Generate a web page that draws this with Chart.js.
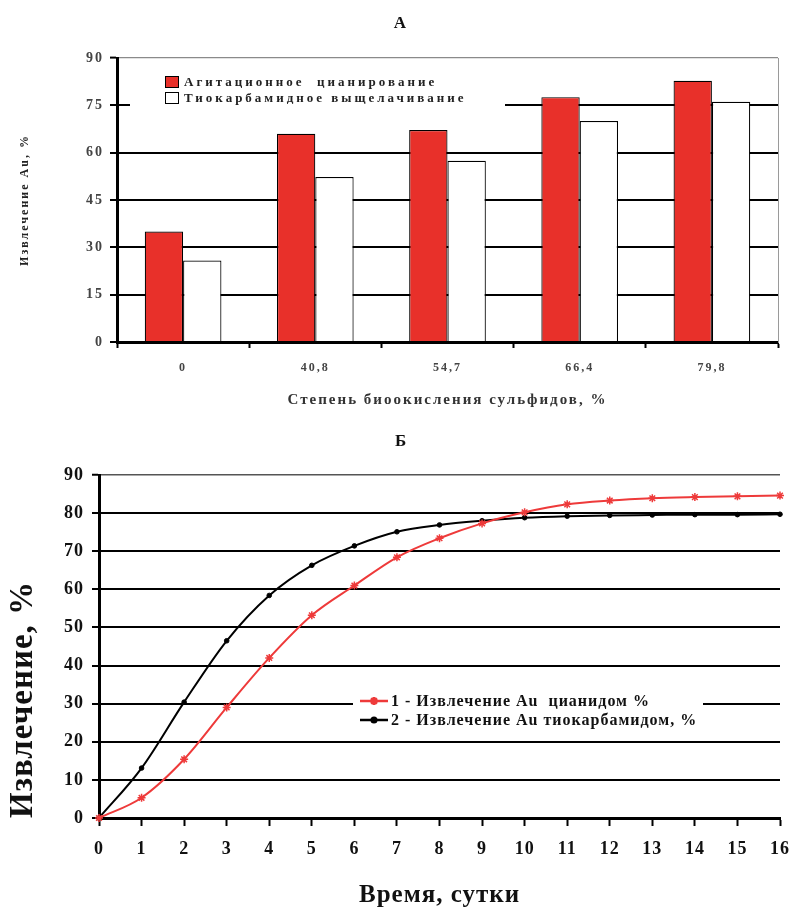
<!DOCTYPE html>
<html>
<head>
<meta charset="utf-8">
<script src="https://cdn.jsdelivr.net/npm/chart.js@4.4.1/dist/chart.umd.min.js"></script>
<style>
html,body{margin:0;padding:0;background:#fff;}
#wrap{position:relative;width:802px;height:913px;background:#fff;}
#c1{position:absolute;left:0;top:0;}
#c2{position:absolute;left:0;top:420px;}
</style>
</head>
<body>
<div id="wrap">
<canvas id="c1" width="802" height="420"></canvas>
<canvas id="c2" width="802" height="493"></canvas>
</div>
<script>
// ---------- Chart А (bars) ----------
const barCategories = ['0', '40,8', '54,7', '66,4', '79,8'];
const agitationCyanidation = [35, 66, 67.2, 77.6, 82.8];
const thioureaLeaching = [25.8, 52.3, 57.4, 70, 76.1];
const barSeriesLabels = ['Агитационное  цианирование', 'Тиокарбамидное выщелачивание'];
const barYTicks = [0, 15, 30, 45, 60, 75, 90];

// ---------- Chart Б (lines) ----------
const days = [0, 1, 2, 3, 4, 5, 6, 7, 8, 9, 10, 11, 12, 13, 14, 15, 16];
const cyanideRecovery = [0, 5.3, 15.4, 29, 42, 53.2, 61, 68.4, 73.4, 77.3, 80.2, 82.3, 83.3, 83.9, 84.2, 84.4, 84.6];
const thioureaRecovery = [0, 13.1, 30.4, 46.5, 58.4, 66.3, 71.4, 75.1, 76.9, 78, 78.8, 79.2, 79.4, 79.5, 79.6, 79.6, 79.7];
const lineSeriesLabels = ['1 - Извлечение Au  цианидом %', '2 - Извлечение Au тиокарбамидом, %'];
const lineYTicks = [0, 10, 20, 30, 40, 50, 60, 70, 80, 90];

const SERIF = "'Liberation Serif', 'Times New Roman', 'DejaVu Serif', serif";
Chart.defaults.font.family = SERIF;
Chart.defaults.color = '#000';

const gridColor = (top, topColor) => (ctx) => (ctx.tick && ctx.tick.value === top ? topColor : '#000');
const gridWidth = (top, w) => (ctx) => (ctx.tick && ctx.tick.value === top ? w : 2);

// spacing + in-area legend for chart А
const barDecor = {
  id: 'barDecor',
  beforeDraw(chart) { chart.ctx.letterSpacing = '2px'; },
  beforeDatasetsDraw(chart) {
    const { ctx, chartArea: a } = chart;
    ctx.save();
    ctx.fillStyle = '#fff';
    ctx.fillRect(a.left + 13, a.top + 4, 375, 50);
    ctx.font = 'bold 13px ' + SERIF;
    ctx.letterSpacing = '3px';
    ctx.textBaseline = 'middle';
    chart.data.datasets.forEach((ds, i) => {
      const y = a.top + 24 + i * 16;
      ctx.fillStyle = ds.backgroundColor;
      ctx.fillRect(a.left + 48, y - 6, 14, 12);
      ctx.strokeStyle = '#000';
      ctx.lineWidth = 1;
      ctx.strokeRect(a.left + 48.5, y - 5.5, 13, 11);
      ctx.fillStyle = '#222';
      ctx.fillText(ds.label, a.left + 67, y + 1);
    });
    ctx.restore();
  }
};

new Chart(document.getElementById('c1'), {
  type: 'bar',
  data: {
    labels: barCategories,
    datasets: [
      { label: barSeriesLabels[0], data: agitationCyanidation, backgroundColor: '#e8302a',
        borderColor: '#000', borderWidth: 1.2, categoryPercentage: 0.58, barPercentage: 1 },
      { label: barSeriesLabels[1], data: thioureaLeaching, backgroundColor: '#ffffff',
        borderColor: '#000', borderWidth: 1.2, categoryPercentage: 0.58, barPercentage: 1 }
    ]
  },
  options: {
    responsive: false, animation: false, devicePixelRatio: 1,
    layout: { padding: { left: 0, right: 0, top: 0, bottom: 0 } },
    plugins: {
      legend: { display: false }, tooltip: { enabled: false },
      title: { display: true, text: 'А', color: '#111', font: { size: 17, weight: 'bold' }, padding: { top: 13, bottom: 24.6 } }
    },
    scales: {
      x: {
        grid: { drawOnChartArea: false, tickLength: 6, tickColor: '#000', tickWidth: 2 },
        border: { color: '#000', width: 3 },
        ticks: { font: { size: 12, weight: 'bold' }, color: '#444', padding: 13 },
        title: { display: true, text: 'Степень биоокисления сульфидов, %', color: '#333',
                 font: { size: 15, weight: 'bold' }, padding: { top: 0, bottom: 11 } },
        afterFit: (s) => { s.height = 78; }
      },
      y: {
        min: barYTicks[0], max: barYTicks[barYTicks.length - 1],
        afterBuildTicks: (s) => { s.ticks = barYTicks.map(v => ({ value: v })); },
        grid: { color: gridColor(90, '#8a8a8a'), lineWidth: gridWidth(90, 1.2), tickLength: 7, tickColor: '#000', tickWidth: 2 },
        border: { color: '#000', width: 3 },
        ticks: { font: { size: 14, weight: 'bold' }, color: '#444', padding: 6 },
        title: { display: true, text: 'Извлечение Au, %', color: '#222',
                 font: { size: 12, weight: 'bold' }, padding: { top: 18, bottom: 0 } },
        afterFit: (s) => { s.width = 117; }
      },
      frame: {
        position: 'right', min: 0, max: 90,
        ticks: { display: false },
        grid: { drawOnChartArea: false, drawTicks: false },
        border: { color: '#9a9a9a', width: 1 },
        afterFit: (s) => { s.width = 24; }
      }
    }
  },
  plugins: [barDecor]
});

// spacing + in-area legend for chart Б
const lineLegend = {
  id: 'lineLegend',
  beforeDraw(chart) { chart.ctx.letterSpacing = '1px'; },
  afterDatasetsDraw(chart) {
    const { ctx, chartArea: a } = chart;
    ctx.save();
    ctx.fillStyle = '#fff';
    ctx.fillRect(a.left + 254, a.top + 212, 350, 44);
    ctx.font = 'bold 16px ' + SERIF;
    ctx.letterSpacing = '1px';
    ctx.textBaseline = 'middle';
    chart.data.datasets.forEach((ds, i) => {
      const y = a.top + 226 + i * 19;
      ctx.strokeStyle = ds.borderColor;
      ctx.lineWidth = 2.5;
      ctx.beginPath();
      ctx.moveTo(a.left + 261, y);
      ctx.lineTo(a.left + 289, y);
      ctx.stroke();
      ctx.fillStyle = ds.backgroundColor;
      Chart.helpers.drawPoint(ctx, { pointStyle: ds.pointStyle, radius: ds.pointRadius, borderWidth: ds.pointBorderWidth, rotation: 0 }, a.left + 275, y);
      ctx.fillStyle = '#111';
      ctx.fillText(ds.label, a.left + 292, y + 1);
    });
    ctx.restore();
  }
};

new Chart(document.getElementById('c2'), {
  type: 'line',
  data: {
    datasets: [
      { label: lineSeriesLabels[0], data: days.map((d, i) => ({ x: d, y: cyanideRecovery[i] })),
        borderColor: '#ee3a3a', backgroundColor: '#ee3a3a', borderWidth: 2,
        pointStyle: 'star', pointRadius: 4, pointBorderWidth: 1.5, pointBorderColor: '#ee3a3a',
        cubicInterpolationMode: 'monotone', clip: 10 },
      { label: lineSeriesLabels[1], data: days.map((d, i) => ({ x: d, y: thioureaRecovery[i] })),
        borderColor: '#000', backgroundColor: '#000', borderWidth: 2,
        pointStyle: 'circle', pointRadius: 2.3, pointBorderWidth: 1, pointBorderColor: '#000',
        cubicInterpolationMode: 'monotone', clip: 10 }
    ]
  },
  options: {
    responsive: false, animation: false, devicePixelRatio: 1,
    layout: { padding: { left: 0, right: 0, top: 0, bottom: 0 } },
    plugins: {
      legend: { display: false }, tooltip: { enabled: false },
      title: { display: true, text: 'Б', color: '#111', font: { size: 17, weight: 'bold' }, padding: { top: 11.8, bottom: 22.8 } }
    },
    scales: {
      x: {
        type: 'linear', min: days[0], max: days[days.length - 1],
        afterBuildTicks: (s) => { s.ticks = days.map(v => ({ value: v })); },
        grid: { drawOnChartArea: false, tickLength: 8, tickColor: '#000', tickWidth: 2 },
        border: { color: '#000', width: 3 },
        ticks: { font: { size: 18, weight: 'bold' }, color: '#111', padding: 13 },
        title: { display: true, text: 'Время, сутки', color: '#111',
                 font: { size: 25, weight: 'bold' }, padding: { top: 0, bottom: 2 } },
        afterFit: (s) => { s.height = 95; }
      },
      y: {
        min: lineYTicks[0], max: lineYTicks[lineYTicks.length - 1],
        afterBuildTicks: (s) => { s.ticks = lineYTicks.map(v => ({ value: v })); },
        grid: { color: gridColor(90, '#555'), lineWidth: gridWidth(90, 1.5), tickLength: 7, tickColor: '#000', tickWidth: 2 },
        border: { color: '#000', width: 3 },
        ticks: { font: { size: 18, weight: 'bold' }, color: '#111', padding: 8 },
        title: { display: true, text: 'Извлечение, %', color: '#111', align: 'start',
                 font: { size: 33, weight: 'bold' }, padding: { top: 4, bottom: 0 } },
        afterFit: (s) => { s.width = 99; }
      },
      edge: {
        position: 'right', min: 0, max: 90,
        ticks: { display: false },
        grid: { drawOnChartArea: false, drawTicks: false },
        border: { display: false },
        afterFit: (s) => { s.width = 13; }
      }
    }
  },
  plugins: [lineLegend]
});
</script>
</body>
</html>
